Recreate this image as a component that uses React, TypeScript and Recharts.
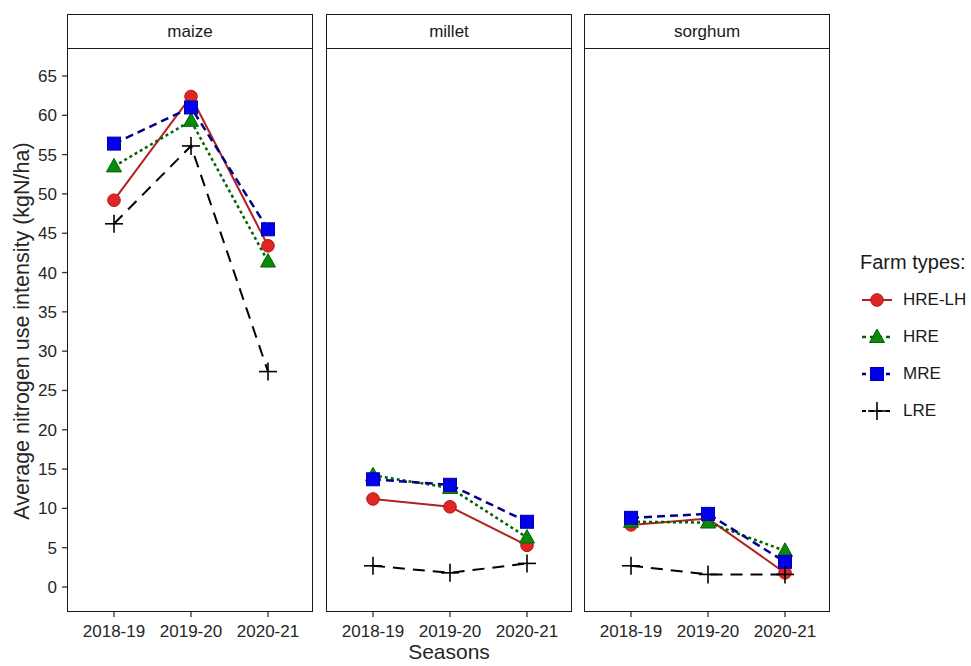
import React from "react";
import { LineChart, Line, XAxis, YAxis } from "recharts";

// categories
const seasons = ["2018-19", "2019-20", "2020-21"];
const crops = ["maize", "millet", "sorghum"];
const yTicks = [0, 5, 10, 15, 20, 25, 30, 35, 40, 45, 50, 55, 60, 65];

// values (kgN/ha)
const maizeHreLh = [49.2, 62.4, 43.4];
const maizeHre = [53.5, 59.3, 41.4];
const maizeMre = [56.4, 61.0, 45.5];
const maizeLre = [46.2, 56.1, 27.4];

const milletHreLh = [11.2, 10.2, 5.3];
const milletHre = [14.2, 12.6, 6.3];
const milletMre = [13.7, 13.0, 8.3];
const milletLre = [2.7, 1.8, 3.0];

const sorghumHreLh = [7.9, 8.7, 1.8];
const sorghumHre = [8.3, 8.2, 4.6];
const sorghumMre = [8.8, 9.3, 3.2];
const sorghumLre = [2.7, 1.6, 1.6];

const valuesByCrop: Record<string, number[][]> = {
  maize: [maizeHreLh, maizeHre, maizeMre, maizeLre],
  millet: [milletHreLh, milletHre, milletMre, milletLre],
  sorghum: [sorghumHreLh, sorghumHre, sorghumMre, sorghumLre],
};

type Shape = "circle" | "triangle" | "square" | "plus";

const SERIES: { key: string; label: string; stroke: string; dash?: string; width: number; shape: Shape; fill: string; edge: string }[] = [
  { key: "hreLh", label: "HRE-LH", stroke: "#b22222", width: 2, shape: "circle", fill: "#e02525", edge: "#b01818" },
  { key: "hre", label: "HRE", stroke: "#006400", dash: "3 3", width: 2.5, shape: "triangle", fill: "#0a8a0a", edge: "#006400" },
  { key: "mre", label: "MRE", stroke: "#00008b", dash: "8 5", width: 2.5, shape: "square", fill: "#0000ee", edge: "#0000aa" },
  { key: "lre", label: "LRE", stroke: "#000000", dash: "12 8", width: 2, shape: "plus", fill: "none", edge: "#000000" },
];

const FONT = "'Liberation Sans', Arial, sans-serif";
const TEXT = "#262626";

// layout
const PLOT_TOP = 48;
const PLOT_H = 564;
const PLOT_W = 246;
const PANEL_X = [67, 326, 584];
const X_AXIS_H = 42;
const Y_DOMAIN: [number, number] = [-3.18, 68.56];

function Marker({ shape, cx, cy, fill, edge }: { shape: Shape; cx: number; cy: number; fill: string; edge: string }) {
  if (shape === "circle") return <circle cx={cx} cy={cy} r={6.3} fill={fill} stroke={edge} strokeWidth={1} />;
  if (shape === "square") return <rect x={cx - 6.5} y={cy - 6.5} width={13} height={13} fill={fill} stroke={edge} strokeWidth={1} />;
  if (shape === "triangle")
    return (
      <polygon
        points={`${cx},${cy - 8} ${cx - 7.5},${cy + 5.5} ${cx + 7.5},${cy + 5.5}`}
        fill={fill}
        stroke={edge}
        strokeWidth={1}
      />
    );
  return (
    <g stroke={edge} strokeWidth={1.6}>
      <line x1={cx - 9} y1={cy} x2={cx + 9} y2={cy} />
      <line x1={cx} y1={cy - 9} x2={cx} y2={cy + 9} />
    </g>
  );
}

function Panel({ crop, idx }: { crop: string; idx: number }) {
  const vals = valuesByCrop[crop];
  const data = seasons.map((s, i) => {
    const row: Record<string, any> = { season: s };
    SERIES.forEach((sr, k) => (row[sr.key] = vals[k][i]));
    return row;
  });
  const first = idx === 0;
  const yW = first ? 67 : 0;
  const left = PANEL_X[idx] - yW;

  return (
    <>
      <div style={{ position: "absolute", left, top: PLOT_TOP }}>
        <LineChart
          width={PLOT_W + yW}
          height={PLOT_H + X_AXIS_H}
          data={data}
          margin={{ top: 0, right: 0, bottom: 0, left: 0 }}
        >
          <XAxis
            dataKey="season"
            padding={{ left: 47, right: 45 }}
            axisLine={false}
            tickLine={{ stroke: "#333", strokeWidth: 1.3 }}
            tickSize={5}
            tickMargin={8}
            height={X_AXIS_H}
            interval={0}
            tick={{ fontSize: 17, fill: TEXT, fontFamily: FONT }}
          />
          <YAxis
            type="number"
            domain={Y_DOMAIN}
            allowDataOverflow
            ticks={yTicks}
            width={yW}
            hide={!first}
            axisLine={false}
            tickLine={{ stroke: "#333", strokeWidth: 1.3 }}
            tickSize={5}
            tickMargin={5}
            interval={0}
            tick={{ fontSize: 17, fill: TEXT, fontFamily: FONT }}
          />
          {SERIES.map((sr) => (
            <Line
              key={sr.key}
              dataKey={sr.key}
              type="linear"
              stroke={sr.stroke}
              strokeWidth={sr.width}
              strokeDasharray={sr.dash}
              isAnimationActive={false}
              activeDot={false}
              dot={(p: any) => (
                <Marker key={`${sr.key}-${p.index}`} shape={sr.shape} cx={p.cx} cy={p.cy} fill={sr.fill} edge={sr.edge} />
              )}
            />
          ))}
        </LineChart>
      </div>
      {/* panel frame */}
      <div
        style={{
          position: "absolute",
          left: PANEL_X[idx],
          top: PLOT_TOP,
          width: PLOT_W,
          height: PLOT_H,
          border: "1.5px solid #1a1a1a",
          boxSizing: "border-box",
          pointerEvents: "none",
        }}
      />
      {/* strip */}
      <div
        style={{
          position: "absolute",
          left: PANEL_X[idx],
          top: 14,
          width: PLOT_W,
          height: 35,
          border: "1.5px solid #1a1a1a",
          boxSizing: "border-box",
          background: "#fff",
          display: "flex",
          alignItems: "center",
          justifyContent: "center",
          fontFamily: FONT,
          fontSize: 17,
          color: "#1a1a1a",
        }}
      >
        {crop}
      </div>
    </>
  );
}

function LegendGlyph({ sr }: { sr: (typeof SERIES)[number] }) {
  return (
    <svg width={32} height={20} style={{ display: "block" }}>
      <line x1={1} y1={10} x2={31} y2={10} stroke={sr.stroke} strokeWidth={sr.width} strokeDasharray={sr.dash ? "4 4" : undefined} />
      <Marker shape={sr.shape} cx={16} cy={10} fill={sr.fill} edge={sr.edge} />
    </svg>
  );
}

export default function App() {
  return (
    <div
      style={{
        position: "absolute",
        left: 0,
        top: 0,
        width: 971,
        height: 666,
        background: "#fff",
        overflow: "hidden",
        fontFamily: FONT,
      }}
    >
      {crops.map((c, i) => (
        <Panel key={c} crop={c} idx={i} />
      ))}

      {/* y axis title */}
      <div
        style={{
          position: "absolute",
          left: 22,
          top: 331,
          transform: "translate(-50%, -50%) rotate(-90deg)",
          whiteSpace: "nowrap",
          fontSize: 21.5,
          lineHeight: "24px",
          color: TEXT,
        }}
      >
        Average nitrogen use intensity (kgN/ha)
      </div>

      {/* x axis title */}
      <div
        style={{
          position: "absolute",
          left: 449,
          top: 641,
          transform: "translateX(-50%)",
          fontSize: 21,
          lineHeight: "22px",
          color: TEXT,
          whiteSpace: "nowrap",
        }}
      >
        Seasons
      </div>

      {/* legend */}
      <div
        style={{
          position: "absolute",
          left: 860,
          top: 262,
          transform: "translateY(-50%)",
          fontSize: 20,
          lineHeight: "22px",
          color: "#1a1a1a",
          whiteSpace: "nowrap",
        }}
      >
        Farm types:
      </div>
      {SERIES.map((sr, i) => (
        <div
          key={sr.key}
          style={{
            position: "absolute",
            left: 861,
            top: 300 + i * 37,
            transform: "translateY(-50%)",
            display: "flex",
            alignItems: "center",
            color: "#1a1a1a",
          }}
        >
          <LegendGlyph sr={sr} />
          <span style={{ marginLeft: 10, fontSize: 17, lineHeight: "20px", whiteSpace: "nowrap" }}>{sr.label}</span>
        </div>
      ))}
    </div>
  );
}
